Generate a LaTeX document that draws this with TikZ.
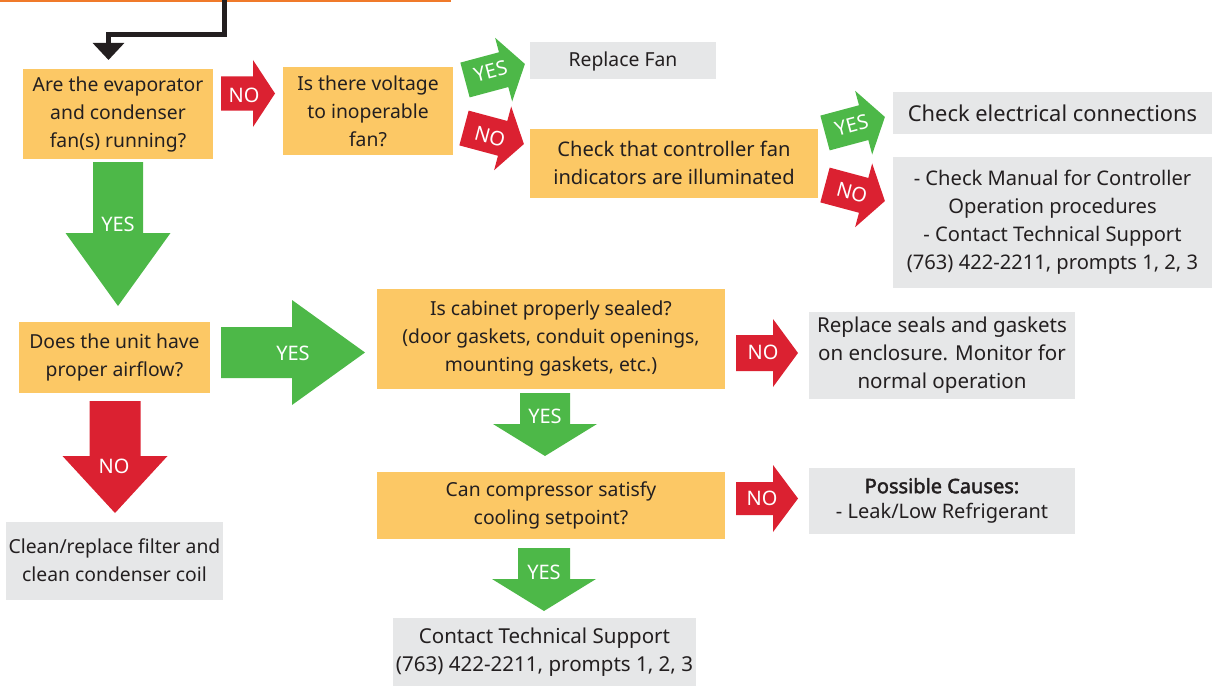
\documentclass[tikz,border=0pt]{standalone}
\usepackage{fontspec}
\setmainfont{Noto Sans}
\newfontfamily\fakebold{Noto Sans}[FakeBold=2.2]
\usetikzlibrary{arrows.meta}
\definecolor{obox}{HTML}{FCC865}
\definecolor{gbox}{HTML}{E6E7E8}
\definecolor{agreen}{HTML}{4DB848}
\definecolor{ared}{HTML}{DB2131}
\definecolor{txt}{HTML}{231F20}
\definecolor{topline}{HTML}{F07A2A}
\newcommand\blkarrow[7]{% color, origin, angle, h, H, shaft length, total length
  \fill[#1, shift={#2}, rotate=#3] (0,-#4) -- (#6,-#4) -- (#6,-#5) -- (#7,0) -- (#6,#5) -- (#6,#4) -- (0,#4) -- cycle;}
\tikzset{
  wh/.style 2 args={minimum width=#1*0.75pt, minimum height=#2*0.75pt},
  fs/.style={font=\fontsize{#1}{21}\selectfont},
  basebox/.style={inner sep=0pt, align=center, text=txt, font=\fontsize{14.5}{21}\selectfont},
  qbox/.style={basebox, fill=obox},
  abox/.style={basebox, fill=gbox},
  lbl/.style={inner sep=0pt, text=white, font=\fontsize{15}{17}\selectfont},
}
\begin{document}
\begin{tikzpicture}[x=0.75pt, y=-0.75pt]
\useasboundingbox (0,0) rectangle (1216,685);
% top orange line
\fill[topline] (0,0) rectangle (451,2.5);
% black connector
\coordinate (top) at (224.5,0);
\coordinate (tipA) at (108.5,60);
\draw[txt, line width=3.4pt, line join=miter, -{Triangle[width=23pt,length=12.75pt]}] (top) -- ++(0,34.5) -| (tipA);

% boxes
\node[qbox, wh={190}{89}] (A) at (118,114) {Are the evaporator\\and condenser\\fan(s) running?};
\node[qbox, wh={170}{87}] (B) at (368,111) {Is there voltage\\to inoperable\\fan?};
\node[abox, wh={186}{37}] (RF) at (623,61) {Replace Fan};
\node[qbox, wh={288}{69}, fs=15.1] (C) at (674,163) {Check that controller fan\\indicators are illuminated};
\node[abox, wh={319}{42}, fs=16.4] (CE) at (1052.5,113) {Check electrical connections};
\node[abox, wh={319}{131}, fs=15.1] (BG) at (1052.5,222) {- Check Manual for Controller\\Operation procedures\\- Contact Technical Support\\(763) 422-2211, prompts 1, 2, 3};
\node[qbox, wh={191}{71}] (D) at (114.5,357) {Does the unit have\\proper airflow?};
\node[qbox, wh={348}{100}] (E) at (551,338.5) {Is cabinet properly sealed?\\(door gaskets, conduit openings,\\mounting gaskets, etc.)};
\node[abox, wh={266}{87}, fs=15.4] (RS) at (942,355) {Replace seals and gaskets\\on enclosure. Monitor for\\normal operation};
\node[qbox, wh={348}{67}] (F) at (551,505) {Can compressor satisfy\\cooling setpoint?};
\node[abox, wh={266}{66}, font=\fontsize{15}{18.75}\selectfont] (PC) at (942,500.5) {{\fakebold Possible Causes:}\\- Leak/Low Refrigerant};
\node[abox, wh={217}{78}] (CL) at (114.5,560.5) {Clean/replace filter and\\clean condenser coil};
\node[abox, wh={303}{69}, fs=15.4] (CT) at (544.5,652) {Contact Technical Support\\(763) 422-2211, prompts 1, 2, 3};

% block arrows
\blkarrow{ared}{(221,93.5)}{0}{17}{33.5}{32}{54}
\node[lbl] (noAB) at (244,95) {NO};
\blkarrow{agreen}{(465,80)}{15}{18}{33}{40}{62}
\node[lbl, rotate=15] (yesRF) at (491,71) {YES};
\blkarrow{ared}{(464,128)}{-15}{18}{33}{40}{62}
\node[lbl, rotate=-15] (noC) at (490,137) {NO};
\blkarrow{agreen}{(825,133)}{15}{18}{33}{40}{62}
\node[lbl, rotate=15] (yesCE) at (852,125) {YES};
\blkarrow{ared}{(825,185)}{-15}{18}{33}{40}{62}
\node[lbl, rotate=-15] (noBG) at (852,193) {NO};

\blkarrow{agreen}{(118,162)}{-90}{25}{52.5}{71}{144}
\node[lbl] (yesD) at (118,224) {YES};
\blkarrow{agreen}{(221,352.5)}{0}{25.5}{52.5}{71}{144}
\node[lbl] (yesE) at (293,353) {YES};
\blkarrow{ared}{(115,401)}{-90}{25.5}{52.5}{55}{112}
\node[lbl] (noCL) at (114,466) {NO};
\blkarrow{ared}{(736,353)}{0}{18}{34}{37}{62}
\node[lbl] (noRS) at (763,352) {NO};
\blkarrow{agreen}{(545,393)}{-90}{25}{52}{31}{63}
\node[lbl] (yesF) at (545,416) {YES};
\blkarrow{ared}{(736,498.5)}{0}{16.5}{33.5}{37}{62}
\node[lbl] (noPC) at (762,498) {NO};
\blkarrow{agreen}{(544,548)}{-90}{26}{52}{31}{63}
\node[lbl] (yesCT) at (544,572) {YES};
\end{tikzpicture}
\end{document}
